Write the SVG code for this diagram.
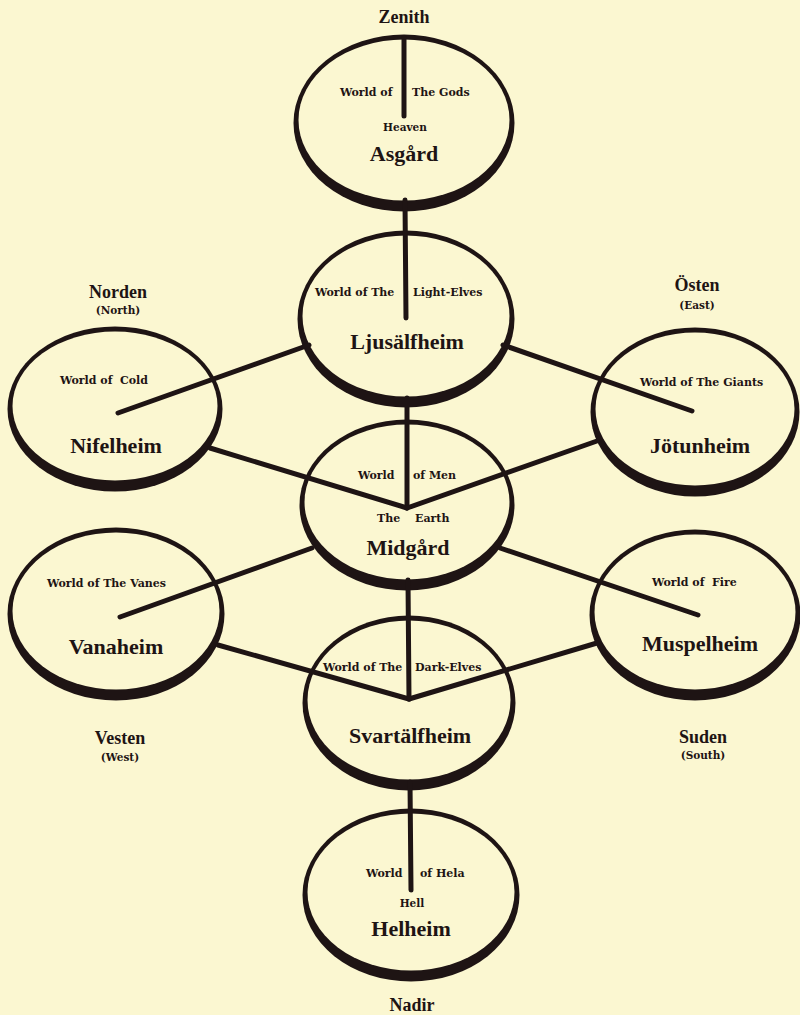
<svg xmlns="http://www.w3.org/2000/svg" width="800" height="1015" viewBox="0 0 800 1015">
<style>
.bg{fill:#FBF7D1}
.ink{fill:#1E1414}
.paper{fill:#FBF7D1}
.name{font-family:"Liberation Serif","DejaVu Serif",serif;font-weight:bold;font-size:22px;fill:#1E1414;text-anchor:middle}
.dir{font-family:"Liberation Serif","DejaVu Serif",serif;font-weight:bold;font-size:18px;fill:#1E1414;text-anchor:middle}
.sub{font-family:"DejaVu Serif",serif;font-weight:bold;font-size:10.5px;fill:#1E1414;text-anchor:middle}
.lbl{font-family:"DejaVu Serif",serif;font-weight:bold;font-size:11px;fill:#1E1414}
.c{stroke:#1E1414;stroke-width:5;stroke-linecap:round;fill:none}
</style>
<rect class="bg" x="0" y="0" width="800" height="1015"/>

<g id="asgard">
<ellipse class="ink" cx="404" cy="123" rx="110.5" ry="88.5"/>
<ellipse class="paper" cx="404" cy="120" rx="105.5" ry="80.5"/>
<text class="lbl" x="340" y="96">World of</text>
<text class="lbl" x="412" y="96">The Gods</text>
<text class="sub" x="405" y="131">Heaven</text>
<text class="name" x="404" y="161">Asgård</text>
</g>

<g id="ljusalfheim">
<ellipse class="ink" cx="406" cy="319" rx="108.5" ry="88.5"/>
<ellipse class="paper" cx="406" cy="316" rx="103.5" ry="80.5"/>
<text class="lbl" x="315" y="296">World of The</text>
<text class="lbl" x="413" y="296">Light-Elves</text>
<text class="name" x="407" y="349">Ljusälfheim</text>
</g>

<g id="nifelheim">
<ellipse class="ink" cx="115" cy="409" rx="107.5" ry="82.5"/>
<ellipse class="paper" cx="115" cy="406" rx="102.5" ry="74.5"/>
<text class="lbl" x="60" y="384" xml:space="preserve">World of  Cold</text>
<text class="name" x="116" y="453">Nifelheim</text>
</g>

<g id="jotunheim">
<ellipse class="ink" cx="695" cy="412" rx="104.5" ry="84.5"/>
<ellipse class="paper" cx="695" cy="409" rx="99.5" ry="76.5"/>
<text class="lbl" x="640" y="386">World of The Giants</text>
<text class="name" x="700" y="453">Jötunheim</text>
</g>

<g id="midgard">
<ellipse class="ink" cx="407" cy="505" rx="107.5" ry="85.5"/>
<ellipse class="paper" cx="407" cy="502" rx="102.5" ry="77.5"/>
<text class="lbl" x="358" y="479">World</text>
<text class="lbl" x="413" y="479">of Men</text>
<text class="lbl" x="377" y="522">The</text>
<text class="lbl" x="415" y="522">Earth</text>
<text class="name" x="408" y="555">Midgård</text>
</g>

<g id="vanaheim">
<ellipse class="ink" cx="116" cy="614" rx="108.5" ry="86.5"/>
<ellipse class="paper" cx="116" cy="611" rx="103.5" ry="78.5"/>
<text class="lbl" x="47" y="587">World of The Vanes</text>
<text class="name" x="116" y="654">Vanaheim</text>
</g>

<g id="muspelheim">
<ellipse class="ink" cx="695" cy="615" rx="105.5" ry="85.5"/>
<ellipse class="paper" cx="695" cy="612" rx="100.5" ry="77.5"/>
<text class="lbl" x="652" y="586" xml:space="preserve">World of  Fire</text>
<text class="name" x="700" y="651">Muspelheim</text>
</g>

<g id="svartalfheim">
<ellipse class="ink" cx="409" cy="703" rx="106.5" ry="87.5"/>
<ellipse class="paper" cx="409" cy="700" rx="101.5" ry="79.5"/>
<text class="lbl" x="323" y="671">World of The</text>
<text class="lbl" x="415" y="671">Dark-Elves</text>
<text class="name" x="410" y="743">Svartälfheim</text>
</g>

<g id="helheim">
<ellipse class="ink" cx="411" cy="895" rx="108.5" ry="86.5"/>
<ellipse class="paper" cx="411" cy="892" rx="103.5" ry="78.5"/>
<text class="lbl" x="366" y="877">World</text>
<text class="lbl" x="420" y="877">of Hela</text>
<text class="sub" x="412" y="907">Hell</text>
<text class="name" x="411" y="936">Helheim</text>
</g>

<g id="directions">
<text class="dir" x="404" y="23">Zenith</text>
<text class="dir" x="412" y="1011">Nadir</text>
<text class="dir" x="118" y="298">Norden</text>
<text class="sub" x="118" y="314">(North)</text>
<text class="dir" x="697" y="291">Östen</text>
<text class="sub" x="697" y="309">(East)</text>
<text class="dir" x="120" y="744">Vesten</text>
<text class="sub" x="120" y="761">(West)</text>
<text class="dir" x="703" y="743">Suden</text>
<text class="sub" x="703" y="759">(South)</text>
</g>

<g id="connectors">
<line class="c" x1="404" y1="38" x2="404" y2="116"/>
<line class="c" x1="405" y1="200" x2="406" y2="318"/>
<line class="c" x1="407" y1="398" x2="407" y2="508"/>
<line class="c" x1="118" y1="413" x2="309" y2="345"/>
<line class="c" x1="692" y1="411" x2="503" y2="345"/>
<line class="c" x1="210" y1="448" x2="407" y2="508"/>
<line class="c" x1="597" y1="441" x2="407" y2="508"/>
<line class="c" x1="120" y1="617" x2="312" y2="548"/>
<line class="c" x1="698" y1="615" x2="500" y2="548"/>
<line class="c" x1="218" y1="645" x2="409" y2="699"/>
<line class="c" x1="597" y1="643" x2="409" y2="699"/>
<line class="c" x1="408" y1="580" x2="409" y2="699"/>
<line class="c" x1="410" y1="782" x2="411" y2="890"/>
</g>
</svg>
